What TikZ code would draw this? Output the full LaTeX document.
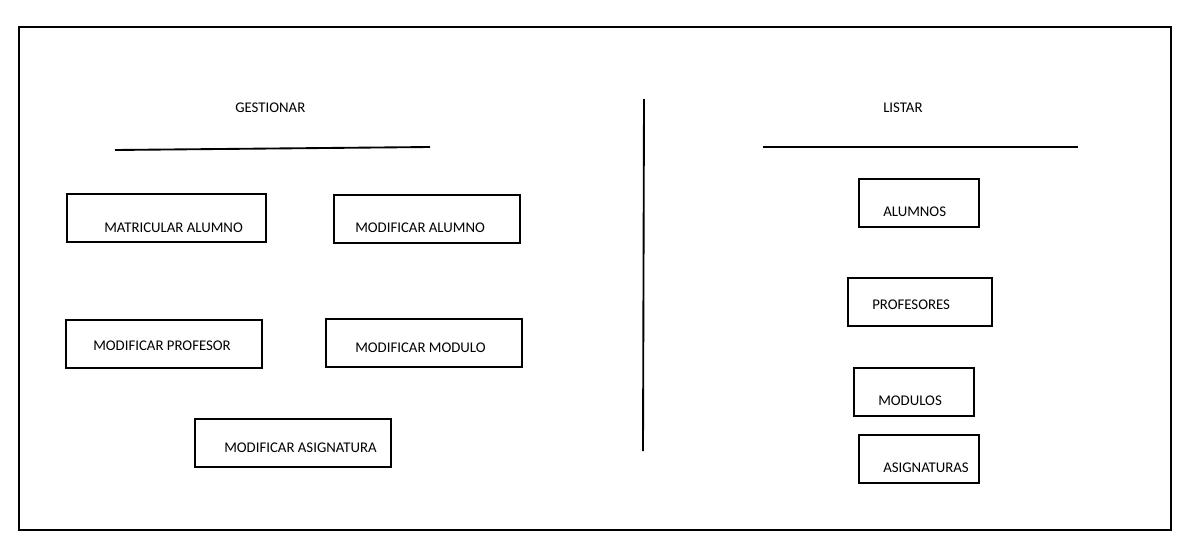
\documentclass[tikz,border=0pt]{standalone}
\usepackage{fontspec}
\setmainfont{Carlito}
\tikzset{
    box/.style={draw, line width=1.3pt, inner sep=0pt},
    lbl/.style={anchor=west, inner sep=0pt, font=\fontsize{11.1}{13}\selectfont},
    rule/.style={line width=1.4pt}
}
\begin{document}
\begin{tikzpicture}[x=0.75pt,y=0.75pt,yscale=-1,xscale=1]
    \useasboundingbox (0,0) rectangle (1193,553);

    %Frame
    \draw [line width=1.2pt] (19,27) rectangle (1171,530);

    % Headings
    \node [lbl] (gestionar) at (235,107.5) {GESTIONAR};
    \node [lbl] (listar) at (883,107.5) {LISTAR};

    %Straight Lines
    \coordinate (gl1) at (115,150);
    \coordinate (gl2) at (430,147);
    \draw [rule] (gl1) -- (gl2);
    \coordinate (ll1) at (763,147);
    \coordinate (ll2) at (1078,147);
    \draw [rule] (ll1) -- (ll2);
    \coordinate (sep1) at (644,99);
    \coordinate (sep2) at (643,451);
    \draw [rule] (sep1) -- (sep2);

    % Boxes, gestionar
    \node [box, minimum width=149.25pt, minimum height=36pt] (matricular) at (166.5,218) {};
    \node [lbl] (matricularT) at (104,227.5) {MATRICULAR ALUMNO};
    \node [box, minimum width=139.5pt, minimum height=36pt] (modalumno) at (427,219) {};
    \node [lbl] (modalumnoT) at (355,227.5) {MODIFICAR ALUMNO};
    \node [box, minimum width=147pt, minimum height=36pt] (modprofesor) at (164,344) {};
    \node [lbl] (modprofesorT) at (93,345.5) {MODIFICAR PROFESOR};
    \node [box, minimum width=147pt, minimum height=36pt] (modmodulo) at (424,343) {};
    \node [lbl] (modmoduloT) at (355,347.5) {MODIFICAR MODULO};
    \node [box, minimum width=147pt, minimum height=36pt] (modasignatura) at (293,443) {};
    \node [lbl] (modasignaturaT) at (224,447.5) {MODIFICAR ASIGNATURA};

    % Boxes, listar
    \node [box, minimum width=90pt, minimum height=36pt] (alumnos) at (919,203) {};
    \node [lbl] (alumnosT) at (883,211.5) {ALUMNOS};
    \node [box, minimum width=108pt, minimum height=36pt] (profesores) at (920,302) {};
    \node [lbl] (profesoresT) at (872,304.5) {PROFESORES};
    \node [box, minimum width=90pt, minimum height=36pt] (modulos) at (914,392) {};
    \node [lbl] (modulosT) at (878,400.5) {MODULOS};
    \node [box, minimum width=90pt, minimum height=36pt] (asignaturas) at (919,459) {};
    \node [lbl] (asignaturasT) at (883,467.5) {ASIGNATURAS};

\end{tikzpicture}
\end{document}
